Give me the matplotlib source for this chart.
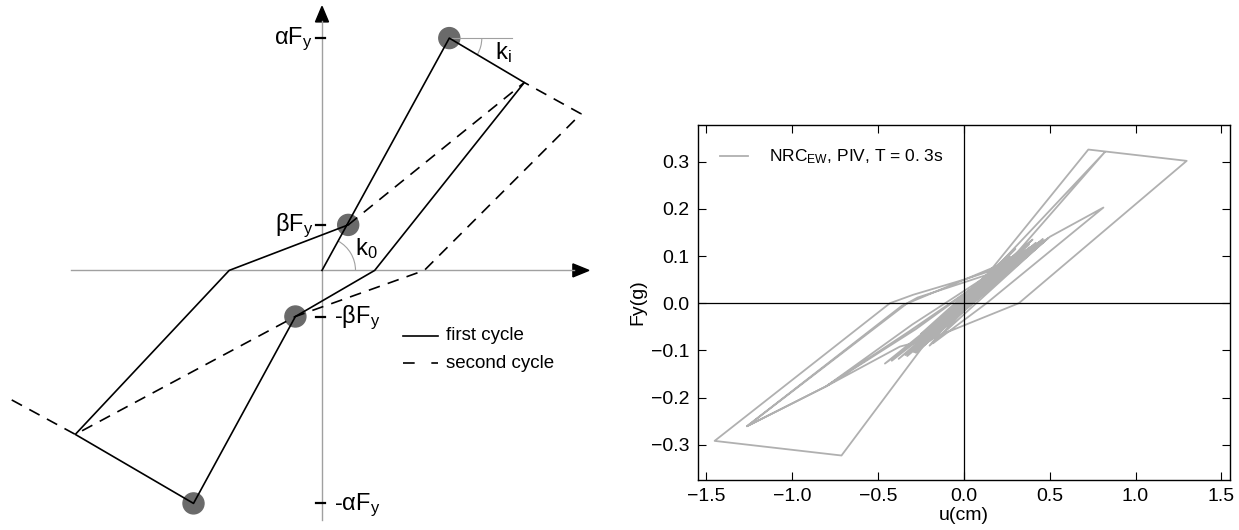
import matplotlib

matplotlib.use("Agg")
import matplotlib.pyplot as plt
from matplotlib.patches import Arc, Circle, Polygon

plt.rcParams["font.family"] = ["Liberation Sans", "DejaVu Sans"]
plt.rcParams["mathtext.fontset"] = "custom"
plt.rcParams["mathtext.rm"] = "Liberation Sans"
plt.rcParams["mathtext.it"] = "Liberation Sans:italic"

# --- left: schematic pinching model (units = pixels from the origin) ---
first_x = [0.0, 127.3, 202.3, 52.7, -26.6, -128.5, -246.7, -92.8, 26.2]
first_y = [0.0, 232.3, 187.9, 0.0, -46.1, -233.0, -164.0, 0.0, 45.5]
second_x = [26.2, 202.3, 259.0, 102.3, -26.6, -246.7, -312.0]
second_y = [45.5, 187.9, 156.6, 0.0, -46.1, -164.0, -128.6]
marker_x = [127.3, 26.2, -26.6, -128.5]
marker_y = [232.3, 45.5, -46.1, -233.0]
level_y = [232.3, 45.5, -46.1, -233.0]
level_labels = ["αF$_\\mathregular{y}$", "βF$_\\mathregular{y}$",
                "-βF$_\\mathregular{y}$", "-αF$_\\mathregular{y}$"]

# --- right: recorded hysteresis loop ---
u_cm = [
    0.00, 0.08, -0.05, 0.15, -0.10, 0.22, -0.16, 0.30, -0.22, 0.38,
    0.45, -0.26, 0.41, -0.33, 0.47, -0.24, 0.36, -0.38, 0.44, -0.29,
    0.33, -0.42, 0.49, -0.27, 0.30, -0.25, 0.40, -0.30,
    -0.373, -0.801, -0.30, 0.42, -0.32, -0.801, -1.264, -0.330, -0.270, 0.150,
    -0.250, 0.480, -0.200,
    0.725, 1.298, 0.320, -0.210, -0.713, -1.452, -0.431, -0.295, 0.000, 0.175,
    0.822, 0.100,
    -0.460, 0.350, -0.250, 0.501, 0.813, 0.132, -0.180, 0.300, -0.280, 0.440,
    -0.200, 0.380, -0.340, 0.460, -0.230, 0.270, -0.310, 0.420, -0.190, 0.200,
    -0.360, -1.264, -0.801, -0.280, 0.250, -0.150, 0.180, -0.120, 0.100,
    -0.050, 0.020,
]
F_g = [
    0.000, 0.032, -0.020, 0.058, -0.042, 0.078, -0.065, 0.098, -0.085, 0.118,
    0.128, -0.092, 0.122, -0.112, 0.133, -0.088, 0.112, -0.118, 0.127, -0.104,
    0.106, -0.122, 0.138, -0.098, 0.115, -0.065, 0.135, -0.085,
    -0.092, -0.176, -0.045, 0.125, -0.060, -0.176, -0.261, 0.000, 0.012, 0.062,
    -0.095, 0.135, -0.090,
    0.326, 0.302, 0.000, -0.078, -0.323, -0.292, 0.000, 0.018, 0.050, 0.071,
    0.321, 0.020,
    -0.128, 0.110, -0.095, 0.141, 0.203, 0.000, -0.085, 0.100, -0.105, 0.130,
    -0.080, 0.125, -0.110, 0.136, -0.075, 0.098, -0.100, 0.128, -0.060, 0.080,
    -0.005, -0.261, -0.176, -0.055, 0.085, -0.060, 0.072, -0.045, 0.040,
    -0.015, 0.005,
]
x_ticks = [-1.5, -1.0, -0.5, 0.0, 0.5, 1.0, 1.5]
y_ticks = [-0.3, -0.2, -0.1, 0.0, 0.1, 0.2, 0.3]

fig = plt.figure(figsize=(12.39, 5.30), dpi=100)

ax0 = fig.add_axes([0, 0, 620 / 1239, 1])
ax0.set_xlim(-322, 298)
ax0.set_ylim(-259.6, 270.4)
ax0.axis("off")

axis_grey = "#a0a0a0"
ax0.plot([-251.4, 252], [0, 0], color=axis_grey, lw=1.0)
ax0.plot([0, 0], [-249.8, 249], color=axis_grey, lw=1.0)
ax0.add_patch(Polygon([(250.9, 6.5), (266.9, 0), (250.9, -6.5)], color="k"))
ax0.add_patch(Polygon([(-6.5, 248.5), (0, 264), (6.5, 248.5)], color="k"))

for mx, my in zip(marker_x, marker_y):
    ax0.add_patch(Circle((mx, my), 10.5, color="#6a6a6a", zorder=2))

ax0.plot(first_x, first_y, color="k", lw=1.2, zorder=3)
ax0.plot(second_x, second_y, color="k", lw=1.2, dashes=(7, 5), zorder=3)

# stiffness annotations
ax0.plot([127.3, 189.6], [232.3, 232.3], color=axis_grey, lw=0.8)
ax0.add_patch(Arc((127.3, 232.3), 65, 65, theta1=-30.6, theta2=0,
                  color=axis_grey, lw=0.8))
ax0.add_patch(Arc((0, 0), 67, 67, theta1=0, theta2=61.3,
                  color=axis_grey, lw=0.8))
ax0.text(181, 218, "k$_\\mathregular{i}$", fontsize=17, ha="center", va="center")
ax0.text(44, 22, "k$_\\mathregular{0}$", fontsize=17, ha="center", va="center")

# level ticks and labels
for ly, lab in zip(level_y, level_labels):
    ax0.plot([-6, 3], [ly, ly], color="k", lw=1.6)
    if ly > 0:
        ax0.text(-9, ly - 6, lab, fontsize=17, ha="right", va="baseline")
    else:
        ax0.text(12, ly - 7, lab, fontsize=17, ha="left", va="baseline")

# legend
ax0.plot([80.5, 116.2], [-65.3, -65.3], color="k", lw=1.2)
ax0.plot([80.5, 116.2], [-92.6, -92.6], color="k", lw=1.2, dashes=(7, 10))
ax0.text(124, -65.3, "first cycle", fontsize=13.5, va="center")
ax0.text(124, -92.6, "second cycle", fontsize=13.5, va="center")

# right panel
ax1 = fig.add_axes([0.5632, 0.0943, 0.4295, 0.6698])
ax1.plot(u_cm, F_g, color="#b0b0b0", lw=1.3,
         label="NRC$_\\mathregular{EW}$, PIV, T = 0. 3s")
ax1.axhline(0, color="k", lw=0.9)
ax1.axvline(0, color="k", lw=0.9)
ax1.set_xlim(-1.55, 1.55)
ax1.set_ylim(-0.375, 0.378)
ax1.set_xticks(x_ticks)
ax1.set_yticks(y_ticks)
ax1.set_xticklabels([f"{v:.1f}".replace("-", "\u2212") for v in x_ticks])
ax1.set_yticklabels([f"{v:.1f}".replace("-", "\u2212") for v in y_ticks])
ax1.tick_params(direction="in", top=True, right=True, length=6, width=0.8,
                labelsize=14, pad=6)
for s in ax1.spines.values():
    s.set_linewidth(1.0)
ax1.set_xlabel("u(cm)", fontsize=14, labelpad=1)
ax1.set_ylabel("Fy(g)", fontsize=14, labelpad=3)
ax1.legend(loc="upper left", frameon=False, fontsize=12.5, handlelength=1.6,
           borderaxespad=0.9, handletextpad=1.2)

fig.savefig("out.png", dpi=100)
